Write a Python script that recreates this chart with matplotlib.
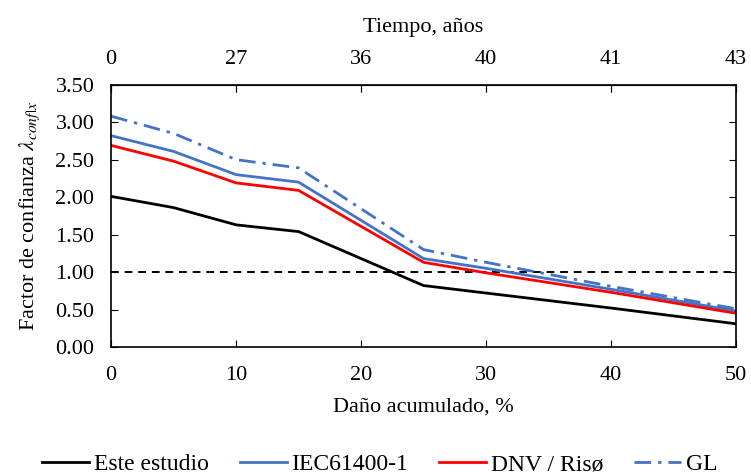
import matplotlib.pyplot as plt

plt.rcParams['font.family'] = ['Liberation Serif', 'DejaVu Serif']
plt.rcParams['mathtext.fontset'] = 'stix'

# Data
dano = [0, 5, 10, 15, 25, 30, 40, 50]
este_estudio = [2.01, 1.86, 1.63, 1.54, 0.82, 0.72, 0.52, 0.31]
iec = [2.82, 2.61, 2.30, 2.20, 1.18, 1.05, 0.77, 0.48]
dnv = [2.69, 2.48, 2.19, 2.09, 1.13, 0.99, 0.73, 0.45]
gl = [3.08, 2.85, 2.50, 2.39, 1.30, 1.13, 0.81, 0.51]

top_ticks = [0, 10, 20, 30, 40, 50]
top_labels = ['0', '27', '36', '40', '41', '43']
y_ticks = [0, 0.5, 1.0, 1.5, 2.0, 2.5, 3.0, 3.5]

fig = plt.figure(figsize=(7.51, 4.76), dpi=100)
ax = fig.add_axes([0.148, 0.271, 0.832, 0.551])

ax.axhline(1.0, color='black', lw=1.4, linestyle=(0, (4, 3)))
ax.plot(dano, este_estudio, color='black', lw=2, label='Este estudio')
ax.plot(dano, iec, color='#4472C4', lw=2, label='IEC61400-1')
ax.plot(dano, dnv, color='#FF0000', lw=2, label='DNV / Risø')
ax.plot(dano, gl, color='#4472C4', lw=2, linestyle=(0, (6, 2.5, 1.2, 2.5)), label='GL')

ax.set_xlim(0, 50)
ax.set_ylim(0, 3.5)
ax.set_xticks(top_ticks)
ax.set_yticks(y_ticks)
ax.set_yticklabels([f'{v:.2f}' for v in y_ticks])
ax.tick_params(direction='in', length=5, labelsize=16, top=True, right=True)
ax.tick_params(axis='x', pad=14)
ax.tick_params(axis='y', pad=12)
ax.set_xlabel('Daño acumulado, %', fontsize=16, labelpad=9)
ax.set_ylabel(r'Factor de confianza $\lambda_{conf|x}$', fontsize=16, labelpad=10)
for s in ax.spines.values():
    s.set_linewidth(1.2)

# Top axis with time in years
top = ax.secondary_xaxis('top')
top.set_xticks(top_ticks)
top.set_xticklabels(top_labels)
top.tick_params(direction='in', length=5, labelsize=16, pad=11)
top.set_xlabel('Tiempo, años', fontsize=16, labelpad=13)

ax.legend(loc='upper center', bbox_to_anchor=(0.43, -0.325), ncol=4, frameon=False,
          fontsize=17, handlelength=2.0, handletextpad=0.2, columnspacing=1.3)

plt.savefig('out.png', dpi=100)
